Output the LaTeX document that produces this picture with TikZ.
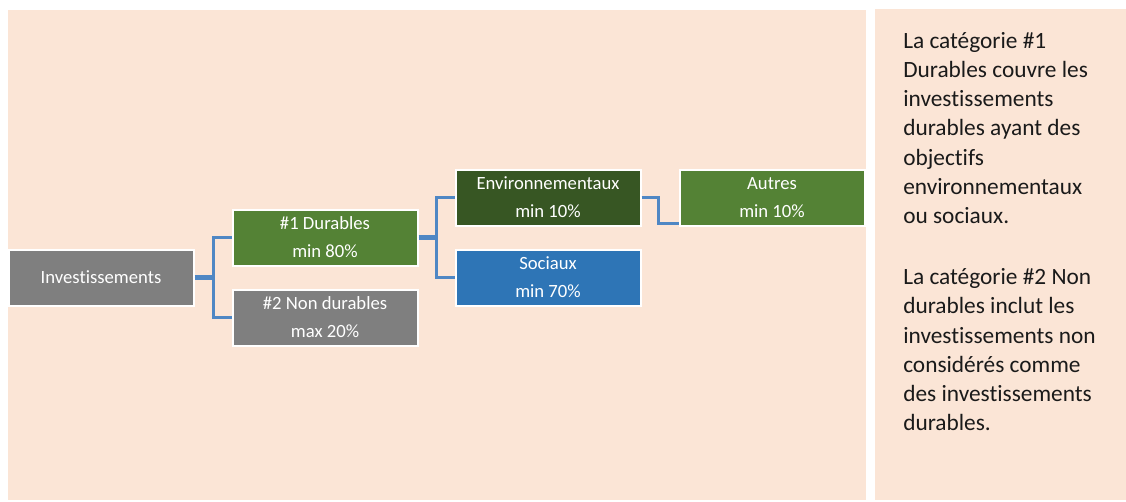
\documentclass[tikz,border=0pt]{standalone}
\usepackage{fontspec}
\setmainfont{Carlito}[Ligatures={NoCommon}]
\usepackage{tikz}
\usetikzlibrary{positioning}
\definecolor{cPanel}    {HTML}{FBE5D6}
\definecolor{cGrey}     {HTML}{7F7F7F}
\definecolor{cGreen}    {HTML}{548235}
\definecolor{cGreenDark}{HTML}{375623}
\definecolor{cBlue}     {HTML}{2E75B6}
\definecolor{cLink}     {HTML}{4F87C4}
\definecolor{cText}     {HTML}{1A1A1A}

\begin{document}
\begin{tikzpicture}[x=0.75pt, y=-0.75pt,
    catBox/.style={draw=white, line width=1.5pt, text=white, align=center,
      minimum width=138.75pt, minimum height=42pt, inner sep=0pt,
      font=\fontsize{14}{21}\selectfont},
    linkLine/.style={draw=cLink, line width=2.2pt}]
        \useasboundingbox (0,0) rectangle (1126,501);
        % two panels
        \fill[cPanel] (8,10) rectangle (866,500);
        \fill[cPanel] (875,9) rectangle (1126,500);
        % tree of categories
        \node[catBox, fill=cGrey]      (invest)      at (101,277.5) {Investissements};
        \node[catBox, fill=cGreen]     (durables)    at (325,237.5) {\#1 Durables\\min 80\%};
        \node[catBox, fill=cGrey]      (nonDurables) at (325,317.5) {\#2 Non durables\\max 20\%};
        \node[catBox, fill=cGreenDark] (environ)     at (548,197.5) {Environnementaux\\min 10\%};
        \node[catBox, fill=cBlue]      (sociaux)     at (548,277.5) {Sociaux\\min 70\%};
        \node[catBox, fill=cGreen]     (autres)      at (772,197.5) {Autres\\min 10\%};
        % elbow links
        \draw[linkLine] ([yshift=1pt]invest.east) -- ++(19,0) |- (durables.west);
        \draw[linkLine] ([yshift=-1pt]invest.east) -- ++(19,0) |- (nonDurables.west);
        \draw[linkLine] ([yshift=1pt]durables.east) -- ++(18,0) |- (environ.west);
        \draw[linkLine] ([yshift=-1pt]durables.east) -- ++(18,0) |- (sociaux.west);
        \draw[linkLine] (environ.east) -- ++(17,0) |- ([yshift=2pt]autres.south west);
        % note at right
        \node[anchor=north west, inner sep=0pt, align=left, text=cText,
              font=\fontsize{17.5}{21.9}\selectfont] (note) at (903,32)
              {La catégorie \#1\\Durables couvre les\\investissements\\durables ayant des\\objectifs\\environnementaux\\ou sociaux.\\[24pt]La catégorie \#2 Non\\durables inclut les\\investissements non\\considérés comme\\des investissements\\durables.};
      \end{tikzpicture}
\end{document}
